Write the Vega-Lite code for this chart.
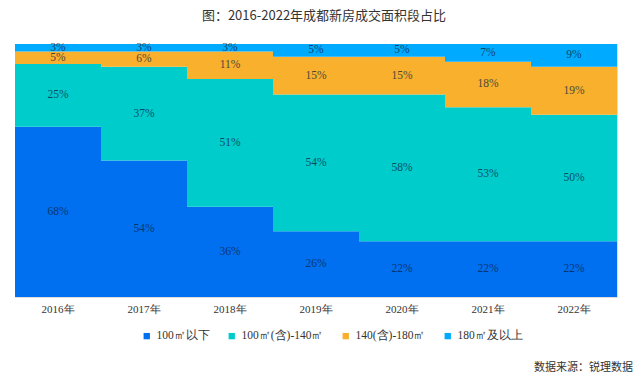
{
  "$schema": "https://vega.github.io/schema/vega-lite/v6.json",
  "padding": {"left": 14, "top": 10, "right": 24, "bottom": 5},
  "background": "white",
  "title": {"text": "图：2016-2022年成都新房成交面积段占比", "fontSize": 13, "font": "Noto Sans CJK SC", "fontWeight": "normal", "color": "#333333", "offset": 18, "anchor": "middle"},
  "config": {"view": {"stroke": "#dddddd"}},
  "vconcat": [
    {
      "width": 602,
      "height": 253,
      "title": {"text": "数据来源：锐理数据", "orient": "bottom", "anchor": "end", "dx": 16, "offset": 48, "fontSize": 11, "font": "Noto Sans CJK SC", "fontWeight": "normal", "color": "#333333"},
      "data": {"values": [
        {"year": "2016年", "seg": "100㎡以下", "v": 0.68},
        {"year": "2016年", "seg": "100㎡(含)-140㎡", "v": 0.25},
        {"year": "2016年", "seg": "140(含)-180㎡", "v": 0.05},
        {"year": "2016年", "seg": "180㎡及以上", "v": 0.03},
        {"year": "2017年", "seg": "100㎡以下", "v": 0.54},
        {"year": "2017年", "seg": "100㎡(含)-140㎡", "v": 0.37},
        {"year": "2017年", "seg": "140(含)-180㎡", "v": 0.06},
        {"year": "2017年", "seg": "180㎡及以上", "v": 0.03},
        {"year": "2018年", "seg": "100㎡以下", "v": 0.36},
        {"year": "2018年", "seg": "100㎡(含)-140㎡", "v": 0.51},
        {"year": "2018年", "seg": "140(含)-180㎡", "v": 0.11},
        {"year": "2018年", "seg": "180㎡及以上", "v": 0.03},
        {"year": "2019年", "seg": "100㎡以下", "v": 0.26},
        {"year": "2019年", "seg": "100㎡(含)-140㎡", "v": 0.54},
        {"year": "2019年", "seg": "140(含)-180㎡", "v": 0.15},
        {"year": "2019年", "seg": "180㎡及以上", "v": 0.05},
        {"year": "2020年", "seg": "100㎡以下", "v": 0.22},
        {"year": "2020年", "seg": "100㎡(含)-140㎡", "v": 0.58},
        {"year": "2020年", "seg": "140(含)-180㎡", "v": 0.15},
        {"year": "2020年", "seg": "180㎡及以上", "v": 0.05},
        {"year": "2021年", "seg": "100㎡以下", "v": 0.22},
        {"year": "2021年", "seg": "100㎡(含)-140㎡", "v": 0.53},
        {"year": "2021年", "seg": "140(含)-180㎡", "v": 0.18},
        {"year": "2021年", "seg": "180㎡及以上", "v": 0.07},
        {"year": "2022年", "seg": "100㎡以下", "v": 0.22},
        {"year": "2022年", "seg": "100㎡(含)-140㎡", "v": 0.50},
        {"year": "2022年", "seg": "140(含)-180㎡", "v": 0.19},
        {"year": "2022年", "seg": "180㎡及以上", "v": 0.09}
      ]},
      "transform": [
        {"stack": "v", "groupby": ["year"], "offset": "normalize", "as": ["v0", "v1"]}
      ],
      "encoding": {
        "x": {"field": "year", "type": "nominal", "title": null,
              "scale": {"paddingInner": 0, "paddingOuter": 0},
              "axis": {"labelAngle": 0, "ticks": false, "domain": false, "labelPadding": 6, "labelFont": "Liberation Serif", "labelFontSize": 11, "labelColor": "#333333"}}
      },
      "layer": [
        {"mark": {"type": "bar", "stroke": null},
         "encoding": {
           "y": {"field": "v0", "type": "quantitative", "scale": {"domain": [0, 1], "nice": false, "zero": true}, "axis": null},
           "y2": {"field": "v1"},
           "color": {"field": "seg", "type": "nominal",
                  "scale": {"domain": ["100㎡以下", "100㎡(含)-140㎡", "140(含)-180㎡", "180㎡及以上"], "range": ["#0070F0", "#00CCCC", "#F9B02C", "#00AAFF"]},
                  "legend": {"title": null, "orient": "none", "legendX": 126, "legendY": 286, "direction": "horizontal", "symbolType": "square", "symbolSize": 40, "symbolStrokeWidth": 0, "labelFont": "Liberation Serif", "labelFontSize": 11.5, "labelColor": "#333333", "columnPadding": 16, "labelOffset": 4}}
         }},
        {"transform": [
           {"fold": ["v0", "v1"], "as": ["edge", "pos"]},
           {"aggregate": [{"op": "mean", "field": "pos", "as": "mid"}], "groupby": ["year", "seg", "v"]}
         ],
         "mark": {"type": "text", "font": "Liberation Serif", "fontSize": 11.5, "color": "#0b2540", "opacity": 0.75},
         "encoding": {
           "y": {"field": "mid", "type": "quantitative"},
           "text": {"field": "v", "type": "quantitative", "format": ".0%"}}}
      ]
    }
  ]
}
